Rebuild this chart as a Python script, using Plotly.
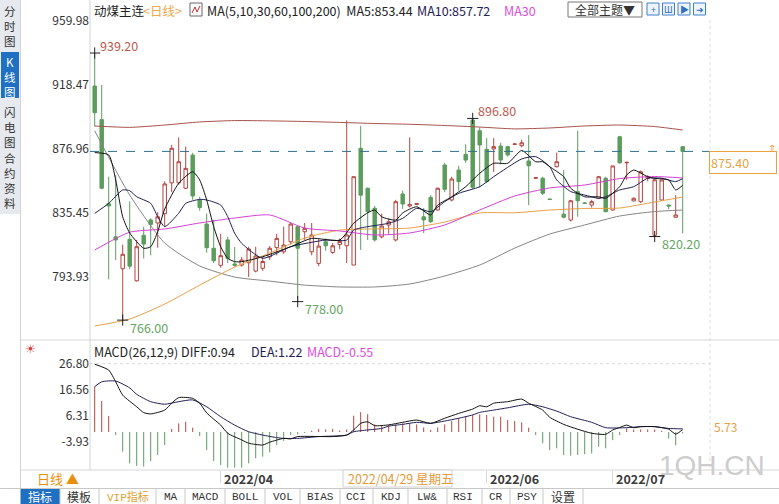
import plotly.graph_objects as go

W, H = 779, 504
def fx(p): return p / W
def fy(p): return 1 - p / H

# ---------------- data ----------------
open_ = [917.8, 896.0, 841.5, 820.0, 799.3, 818.4, 791.5, 821.0, 831.0, 829.0,
         835.0, 855.0, 855.0, 851.5, 873.0, 844.0, 828.3, 812.6, 801.5, 818.0,
         802.4, 801.7, 803.2, 797.8, 799.6, 807.0, 813.0, 810.3, 816.8, 826.6,
         823.3, 810.3, 802.8, 816.8, 809.9, 815.0, 814.2, 801.7, 877.4, 851.5,
         838.5, 820.0, 827.7, 818.0, 847.8, 840.0, 841.0, 833.0, 845.6, 837.4,
         866.6, 843.9, 863.3, 873.5, 895.8, 888.8, 876.8, 877.0, 878.9, 878.5,
         880.0, 879.1, 869.2, 858.0, 858.0, 844.5, 865.5, 834.7, 830.9, 849.3,
         842.0, 840.6, 845.0, 858.0, 837.4, 884.9, 868.0, 843.3, 842.8, 858.0,
         821.0, 843.9, 840.6, 832.7, 878.5]
high = [939.2, 918.5, 859.0, 860.0, 815.0, 843.0, 818.0, 826.6, 832.0, 836.0,
        856.0, 879.6, 884.5, 878.5, 874.5, 846.0, 835.0, 831.0, 822.0, 820.0,
        813.4, 807.0, 813.6, 813.6, 807.0, 814.0, 822.0, 826.6, 829.0, 827.0,
        829.0, 829.0, 818.5, 819.0, 816.0, 819.0, 895.5, 859.0, 892.0, 852.0,
        840.0, 835.0, 832.0, 844.0, 850.0, 884.5, 842.0, 838.7, 847.0, 852.0,
        868.0, 859.0, 866.0, 880.0, 896.8, 891.0, 884.0, 884.0, 881.0, 879.0,
        880.5, 883.0, 886.0, 858.5, 859.0, 845.0, 874.6, 863.3, 844.0, 888.8,
        842.5, 844.0, 859.5, 859.0, 866.0, 885.5, 868.7, 845.5, 863.0, 860.0,
        858.0, 857.0, 841.0, 847.0, 878.5]
low = [891.5, 851.0, 792.5, 805.0, 766.0, 799.0, 791.0, 806.0, 808.0, 813.0,
       826.6, 849.0, 854.0, 851.0, 844.0, 837.0, 809.7, 803.0, 800.0, 803.0,
       800.6, 800.6, 794.0, 797.0, 798.0, 805.0, 808.0, 809.0, 815.0, 778.0,
       818.0, 808.0, 801.0, 811.0, 809.0, 812.0, 803.0, 801.7, 811.5, 818.0,
       817.0, 819.0, 822.0, 817.0, 838.0, 839.0, 840.5, 822.4, 829.0, 837.0,
       849.0, 843.0, 850.0, 868.0, 851.0, 852.0, 855.0, 862.0, 867.0, 872.0,
       879.5, 878.0, 840.6, 857.5, 847.0, 844.0, 865.0, 832.0, 830.0, 833.0,
       841.5, 839.0, 844.5, 836.0, 837.0, 867.5, 856.9, 843.0, 842.0, 856.0,
       820.2, 843.5, 838.0, 832.5, 822.3]
close = [900.5, 851.5, 840.0, 818.0, 808.7, 801.0, 813.6, 815.3, 828.0, 833.0,
         854.3, 877.4, 868.7, 864.4, 846.5, 839.0, 813.0, 804.5, 807.8, 806.0,
         801.5, 805.0, 812.1, 807.6, 804.0, 812.6, 819.0, 814.7, 828.3, 812.6,
         825.5, 821.2, 814.0, 814.2, 814.2, 817.0, 821.2, 859.0, 847.0, 836.3,
         818.0, 827.0, 829.8, 842.8, 841.3, 841.0, 841.5, 831.0, 829.8, 851.5,
         850.8, 857.5, 855.8, 869.8, 852.1, 879.6, 855.8, 878.5, 869.8, 873.1,
         880.2, 881.0, 866.1, 858.3, 848.2, 844.2, 868.7, 832.7, 843.4, 843.4,
         841.7, 842.8, 859.0, 836.3, 866.0, 868.0, 868.3, 845.0, 862.2, 859.0,
         857.0, 856.9, 840.0, 834.2, 875.4]

# moving averages (candle index, value)
ma5_i = [0, 2, 3, 4, 5, 7, 8, 9, 10, 12, 14, 15, 16, 17, 18, 19, 20, 21, 24, 28,
         31, 35, 37, 39, 40, 41, 43, 44, 46, 48, 49, 51, 53, 55, 57, 59, 61, 63, 64, 65,
         67, 68, 70, 72, 73, 75, 76, 77, 79, 80, 82, 83, 84]
ma5_v = [874.6, 873.1, 856.9, 833.0, 822.5, 812.6, 813.6, 823.3, 838.0, 854.7,
         862.2, 856.9, 843.9, 826.6, 813.6, 806.1, 803.9, 803.9, 807.1, 813.6,
         819.0, 817.9, 828.8, 835.6, 837.4, 833.0, 830.9, 835.5, 839.5, 834.2,
         840.6, 846.0, 852.5, 861.2, 867.7, 867.7, 876.0, 868.7, 868.7, 865.5,
         859.0, 851.5, 846.0, 846.0, 845.0, 852.5, 860.1, 863.3, 859.0, 857.9,
         856.9, 850.4, 853.44]
ma10_i = [0, 2, 4, 5, 6, 8, 9, 10, 12, 13, 15, 16, 18, 19, 20, 21, 24, 28, 33, 36,
          37, 39, 42, 44, 46, 48, 50, 52, 55, 57, 61, 63, 65, 66, 68, 70, 72, 73, 75, 77,
          79, 81, 83, 84]
ma10_v = [835.2, 841.7, 850.4, 849.9, 846.0, 841.7, 833.1, 826.6, 835.3, 841.7,
          844.3, 843.9, 840.6, 833.1, 822.3, 815.8, 806.1, 813.6, 817.9, 817.9,
          824.4, 826.6, 828.8, 832.0, 838.5, 836.3, 842.8, 848.2, 852.5, 859.0,
          870.5, 872.0, 865.5, 856.9, 849.4, 847.1, 845.0, 846.0, 850.4, 852.5,
          858.0, 858.0, 855.8, 857.72]
ma_long_i = [0, 5, 10, 15, 20, 25, 30, 35, 40, 45, 50, 55, 60, 65, 70, 75, 80, 84]
ma30_v = [811.5, 823.0, 825.1, 829.0, 832.2, 834.2, 825.7, 823.8, 821.2, 822.5,
          827.7, 837.4, 846.5, 851.7, 853.6, 857.8, 859.1, 858.2]
ma60_v = [762.2, 766.7, 776.4, 788.7, 800.4, 809.5, 819.2, 824.4, 825.1, 825.7,
          829.6, 835.5, 835.6, 837.4, 838.4, 838.7, 842.6, 845.8]
ma100_v = [888.8, 847.1, 816.0, 801.1, 793.9, 791.3, 788.7, 787.5, 787.5, 789.4,
           794.6, 801.7, 812.7, 821.8, 827.7, 833.5, 836.4, 837.4]
ma200_v = [891.9, 891.0, 892.5, 894.5, 895.4, 895.2, 894.8, 894.2, 893.5, 893.0,
           892.2, 891.2, 890.0, 890.6, 891.9, 892.5, 891.5, 889.3]

# MACD panel
macd_hist = [17.9, 12.2, 6.3, -1.2, -7.7, -12.3, -13.3, -13.6, -11.4, -9.0,
             -5.1, 1.2, 3.4, 4.0, 1.7, -1.6, -7.1, -11.4, -13.0, -14.0,
             -14.0, -14.0, -12.3, -10.3, -9.7, -8.0, -5.1, -3.5, -1.2, -1.0,
             -0.4, 0.5, 1.2, 1.0, 1.2, 0.6, 1.0, 6.4, 7.8, 7.0,
             3.0, 2.7, 2.7, 3.0, 3.4, 3.4, 3.0, 1.8, 0.8, 1.8,
             3.0, 4.3, 5.4, 6.0, 6.7, 6.9, 6.7, 6.0, 6.0, 4.7,
             4.3, 3.8, 1.7, -1.2, -4.4, -7.1, -6.4, -9.0, -9.3, -9.0,
             -8.7, -8.4, -5.8, -6.4, -3.2, -1.2, 1.4, 1.0, 1.0, 1.0,
             1.0, 0.5, -2.6, -5.2, -0.55]
diff_i = [0, 2, 3, 4, 6, 7, 8, 10, 11, 12, 14, 15, 16, 18, 19, 21, 22, 24, 25, 27,
          28, 29, 34, 36, 37, 38, 39, 40, 42, 44, 46, 48, 50, 52, 54, 55, 56, 57, 59, 61,
          62, 64, 65, 67, 69, 71, 73, 74, 75, 76, 77, 78, 80, 82, 83, 84]
diff_v = [26.6, 24.3, 19.7, 14.5, 9.9, 7.6, 7.1, 8.6, 11.3, 13.5,
          13.2, 11.3, 7.5, 2.7, -0.5, -3.1, -4.4, -5.1, -4.0, -2.5,
          -2.7, -1.8, -1.8, -1.2, 0.8, 3.4, 4.0, 2.5, 2.8, 3.8,
          4.7, 3.4, 5.4, 7.3, 9.0, 10.3, 9.9, 11.3, 11.9, 12.9,
          11.3, 8.6, 5.8, 3.0, 1.1, -0.5, -0.9, 0.8, 1.8, 2.7,
          1.7, 2.1, 2.1, 1.1, -0.8, 0.94]
dea_i = [0, 1, 3, 5, 6, 8, 10, 12, 14, 16, 18, 20, 22, 24, 26, 27, 29, 32, 36, 37,
         39, 41, 42, 44, 46, 48, 50, 52, 54, 55, 57, 59, 62, 64, 66, 68, 71, 73, 76, 78,
         80, 82, 84]
dea_v = [17.8, 19.7, 20.0, 17.3, 14.8, 11.9, 10.9, 11.9, 12.6, 9.9,
         6.0, 2.7, 0.1, -1.2, -2.2, -2.5, -2.5, -1.8, -1.2, 0.1,
         0.8, 1.4, 2.3, 3.0, 3.8, 3.4, 4.3, 5.4, 6.7, 7.7,
         8.6, 9.5, 10.9, 9.9, 8.2, 6.0, 3.8, 1.7, 1.7, 2.1,
         2.1, 1.4, 1.22]

price_ticks = [959.98, 918.47, 876.96, 835.45, 793.93]
macd_ticks = [26.80, 16.56, 6.31, -3.93]
month_idx = [18, 56, 74]
month_lbl = ["2022/04", "2022/06", "2022/07"]
extremes = [(0, "H"), (4, "L"), (29, "L"), (54, "H"), (80, "L")]
tab_labels = ["指标", "模板", "VIP指标", "MA", "MACD", "BOLL", "VOL", "BIAS", "CCI",
              "KDJ", "LW&amp;", "RSI", "CR", "PSY", "设置"]
side_tabs = ["分时图", "K线图", "闪电图", "合约资料"]

# ---------------- styling ----------------
RED = "#b3453f"
GREEN = "#5c9c5c"
RED_T = "#c0584e"
GREEN_T = "#64a464"
C_MA5 = "#111111"
C_MA10 = "#1f2055"
C_MA30 = "#d640d6"
C_MA60 = "#eaa045"
C_MA100 = "#858585"
C_MA200 = "#a65249"
FONT = "Noto Sans CJK SC, Noto Sans, sans-serif"
MONO = "Liberation Mono, Noto Sans CJK SC, monospace"

idx = list(range(len(close)))
X0, X1 = -0.67, 87.9
PY0, PY1 = 754.4, 968.4
MY0, MY1 = -14.91, 34.93

fig = go.Figure()
fig.add_trace(go.Candlestick(
    x=idx, open=open_, high=high, low=low, close=close,
    increasing=dict(line=dict(color=RED, width=1), fillcolor="white"),
    decreasing=dict(line=dict(color=GREEN, width=1), fillcolor=GREEN),
    whiskerwidth=0, hoverinfo="none", showlegend=False, xaxis="x", yaxis="y"))

def ma_line(xi, yv, color):
    fig.add_trace(go.Scatter(x=xi, y=yv, mode="lines", hoverinfo="skip", showlegend=False,
                             line=dict(color=color, width=1, shape="spline", smoothing=0.6),
                             xaxis="x", yaxis="y"))

ma_line(ma_long_i, ma200_v, C_MA200)
ma_line(ma_long_i, ma100_v, C_MA100)
ma_line(ma_long_i, ma60_v, C_MA60)
ma_line(ma_long_i, ma30_v, C_MA30)
ma_line(ma10_i, ma10_v, C_MA10)
ma_line(ma5_i, ma5_v, C_MA5)

# extreme markers
ex_x = [i for i, k in extremes]
ex_y = [high[i] if k == "H" else low[i] for i, k in extremes]
fig.add_trace(go.Scatter(x=ex_x, y=ex_y, mode="markers", hoverinfo="skip", showlegend=False,
                         marker=dict(symbol="cross-thin", size=8, line=dict(color="#222", width=1)),
                         xaxis="x", yaxis="y"))

# MACD histogram as thin sticks
def sticks(pos):
    xs, ys = [], []
    for i, v in enumerate(macd_hist):
        if (v >= 0) == pos:
            xs += [i, i, None]
            ys += [0, v, None]
    return xs, ys

for pos, col in ((True, RED), (False, GREEN)):
    xs, ys = sticks(pos)
    fig.add_trace(go.Scatter(x=xs, y=ys, mode="lines", line=dict(color=col, width=1),
                             hoverinfo="skip", showlegend=False, xaxis="x2", yaxis="y2"))
fig.add_trace(go.Scatter(x=dea_i, y=dea_v, mode="lines", hoverinfo="skip", showlegend=False,
                         line=dict(color="#1f2055", width=1, shape="spline", smoothing=0.6),
                         xaxis="x2", yaxis="y2"))
fig.add_trace(go.Scatter(x=diff_i, y=diff_v, mode="lines", hoverinfo="skip", showlegend=False,
                         line=dict(color="#111", width=1, shape="spline", smoothing=0.6),
                         xaxis="x2", yaxis="y2"))

tickfont = dict(family=FONT, size=12, color="#333")
ax_common = dict(showgrid=False, zeroline=False, showline=False, fixedrange=True)
fig.update_layout(
    width=W, height=H, margin=dict(l=0, r=0, t=0, b=0),
    paper_bgcolor="white", plot_bgcolor="white", showlegend=False,
    font=dict(family=FONT, size=12, color="#333"),
    xaxis=dict(domain=[fx(90), fx(710)], range=[X0, X1], showticklabels=False,
               rangeslider=dict(visible=False), anchor="y", **ax_common),
    yaxis=dict(domain=[fy(338), fy(8)], range=[PY0, PY1], tickvals=price_ticks,
               ticktext=[f"{v:.2f}" for v in price_ticks], tickfont=tickfont,
               anchor="x", **ax_common),
    yaxis3=dict(overlaying="y", side="right", range=[PY0, PY1], tickvals=price_ticks,
                ticktext=[f"{v:.2f}" for v in price_ticks], tickfont=tickfont,
                anchor="x", **ax_common),
    xaxis2=dict(domain=[fx(90), fx(710)], range=[X0, X1], showticklabels=False,
                tickvals=month_idx, ticks="outside", ticklen=12, tickcolor="#d8d8d8",
                anchor="y2", **ax_common),
    yaxis2=dict(domain=[fy(470), fy(343)], range=[MY0, MY1], tickvals=macd_ticks,
                ticktext=[f"{v:.2f}" for v in macd_ticks], tickfont=tickfont,
                anchor="x2", **ax_common),
    yaxis4=dict(overlaying="y2", side="right", range=[MY0, MY1], tickvals=macd_ticks,
                ticktext=[f"{v:.2f}" for v in macd_ticks], tickfont=tickfont,
                anchor="x2", **ax_common),
)

shapes = []
ann = []
def hline(y, x0, x1, color="#d6d6d6", dash="solid"):
    shapes.append(dict(type="line", xref="paper", yref="paper", x0=fx(x0), x1=fx(x1),
                       y0=fy(y), y1=fy(y), line=dict(color=color, width=1, dash=dash), layer="below"))
def vline(x, y0, y1, color="#d6d6d6", dash="solid"):
    shapes.append(dict(type="line", xref="paper", yref="paper", x0=fx(x), x1=fx(x),
                       y0=fy(y0), y1=fy(y1), line=dict(color=color, width=1, dash=dash), layer="below"))
def rect(x0, y0, x1, y1, fill="rgba(0,0,0,0)", line="#999", layer="below"):
    shapes.append(dict(type="rect", xref="paper", yref="paper", x0=fx(x0), x1=fx(x1),
                       y0=fy(y1), y1=fy(y0), fillcolor=fill,
                       line=dict(color=line, width=1 if line else 0), layer=layer))
def text(x, y, s, color="#333", size=12, xanchor="left", family=FONT, yanchor="middle", **kw):
    ann.append(dict(xref="paper", yref="paper", x=fx(x), y=fy(y), text=s, showarrow=False,
                    xanchor=xanchor, yanchor=yanchor,
                    font=dict(family=family, size=size, color=color), **kw))

# sidebar
rect(0, 0, 20, 214, fill="#e6e9ee", line=None)
rect(1, 52, 19, 98, fill="#1f6fc2", line=None)
vline(20.5, 0, 489, color="#cfd3d8")
for s, y0, col in zip(side_tabs, (2, 53, 103, 149), ("#333", "white", "#333", "#333")):
    text(10, y0, "<br>".join(s), color=col, size=11.5, xanchor="center", yanchor="top",
         borderpad=0)

# frame lines
vline(90, 0, 470, color="#d4d4d4")
vline(710, 20, 470, color="#dcdcdc", dash="dot")
hline(340, 20, 779)
hline(470, 20, 779)
hline(488.5, 0, 779, color="#c8c8c8")
shapes.append(dict(type="line", xref="paper", yref="y2", x0=fx(90), x1=fx(710),
                   y0=macd_ticks[0], y1=macd_ticks[0], line=dict(color="#d8d8d8", width=1, dash="dot"),
                   layer="below"))

# last price dashed line
shapes.append(dict(type="line", xref="paper", yref="y", x0=fx(90), x1=fx(710),
                   y0=close[-1], y1=close[-1], line=dict(color="#2f6f8f", width=1, dash="dash")))

# header
text(92, 10, "动煤主连", color="#222", size=12.5)
text(141, 10, "&lt;日线&gt;", color="#f0a848", size=12.5)
rect(190, 3, 202, 16, fill="white", line="#666", layer="above")
shapes.append(dict(type="path", xref="paper", yref="paper", layer="above",
                   path=f"M {fx(192)},{fy(13)} L {fx(195)},{fy(7)} L {fx(197)},{fy(12)} L {fx(200)},{fy(6)}",
                   line=dict(color="#c03030", width=1)))
text(205, 10, f"MA(5,10,30,60,100,200)  MA5:{ma5_v[-1]:.2f}", color="#222", size=12.5)
text(415, 10, f"MA10:{ma10_v[-1]:.2f}", color=C_MA10, size=12.5)
text(502, 10, "MA30", color="#e04ce0", size=12.5)
rect(568, 2, 642, 17, fill="white", line="#777", layer="above")
text(605, 9.5, "全部主题▼", color="#333", size=12, xanchor="center")
for k, g in enumerate(["+", "Ш", "▶", "➜"]):
    x0 = 647 + k * 15.5
    rect(x0, 3, x0 + 12, 15, fill="#eef4fb", line="#3f7fcf", layer="above")
    text(x0 + 6, 9, g, color="#2f6fbf", size=9, xanchor="center")

# extreme labels
for i, k in extremes:
    v = high[i] if k == "H" else low[i]
    ann.append(dict(xref="x", yref="y", x=i, y=v, text=f"{v:.2f}", showarrow=False,
                    xanchor="left", yanchor="middle", xshift=3 if k == "H" else 5,
                    yshift=8 if k == "H" else -7,
                    font=dict(family=FONT, size=12.5, color=RED_T if k == "H" else GREEN_T)))

# last price box
ann.append(dict(xref="paper", yref="y", x=fx(709), y=close[-1], text=f"{close[-1]:.2f}",
                showarrow=False, xanchor="left", yanchor="top", yshift=0, width=64, align="left",
                bgcolor="white", bordercolor="#e8a040", borderwidth=1, borderpad=1,
                font=dict(family=FONT, size=12.5, color="#e8a040")))
text(772, 147, "⇑", color="#e8a040", size=10, xanchor="center")

# MACD header
text(30, 349, "☀", color="#d23c3c", size=12, xanchor="center", family="DejaVu Sans")
text(92, 351, "MACD(26,12,9) DIFF:0.94", color="#222", size=12.5)
text(249, 351, "DEA:1.22", color=C_MA10, size=12.5)
text(305, 351, "MACD:-0.55", color="#e04ce0", size=12.5)
text(712, 426, "5.73", color="#e8a040", size=12)

# date strip
text(35, 478, "日线 ▲", color="#e8900c", size=13)
for i, lbl in zip(month_idx, month_lbl):
    ann.append(dict(xref="x2", yref="paper", x=i, y=fy(478), text=f"<b>{lbl}</b>", showarrow=False,
                    xanchor="left", yanchor="middle", xshift=1,
                    font=dict(family=FONT, size=12.5, color="#3a3a3a")))
rect(343, 470, 452, 487, fill="white", line="#d0d0d0", layer="above")
text(346, 478.5, "2022/04/29 星期五", color="#e39a3a", size=12.5)
text(766, 465, "1QH.CN", color="#cdcdcd", size=28, xanchor="right", family="Liberation Sans",
     borderpad=0)

# tabs
seps = [60, 99, 156, 185, 225, 265, 300, 340, 373, 408, 447, 482, 510, 543, 583]
centers = [40, 79, 128, 171, 205, 245, 283, 320, 356, 391, 427, 463, 496, 527, 563]
rect(20.5, 489, 60, 504, fill="#1f6fc2", line=None)
for s in seps:
    vline(s, 489, 504, color="#c8c8c8")
for k, (lbl, cx) in enumerate(zip(tab_labels, centers)):
    col = "white" if k == 0 else ("#e0a030" if k == 2 else "#333")
    fam = FONT if k in (0, 1, 14) else MONO
    text(cx, 496.5, lbl, color=col, size=12 if k in (0, 1, 14) else 11, xanchor="center", family=fam)

fig.update_layout(shapes=shapes, annotations=ann)
fig.write_html("out.html")
